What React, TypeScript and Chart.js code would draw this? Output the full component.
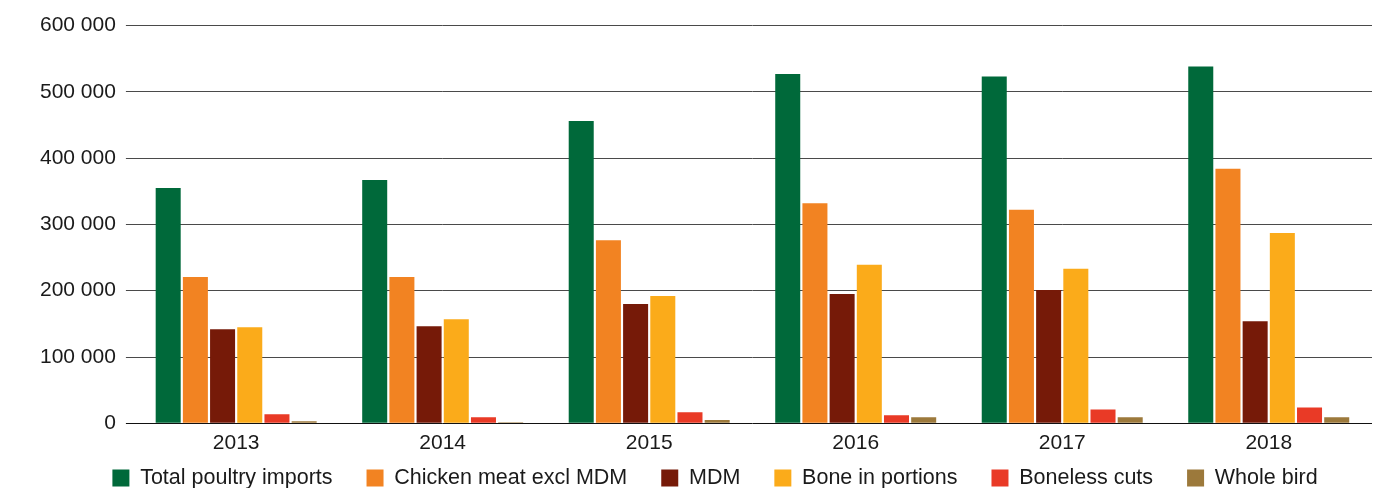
import React, { useEffect, useRef } from "react";
import { Chart, registerables } from "chart.js";

Chart.register(...registerables);

const categories = ["2013", "2014", "2015", "2016", "2017", "2018"];
const totalPoultryImports = [355000, 367000, 456000, 527000, 523000, 538000];
const chickenMeatExclMDM = [220500, 220500, 276000, 332000, 322000, 384000];
const mdm = [142000, 146500, 180000, 195000, 201000, 154000];
const boneInPortions = [145000, 157000, 192000, 239000, 233000, 287000];
const bonelessCuts = [13600, 9000, 16600, 12000, 21000, 24000];
const wholeBird = [3000, 1500, 5000, 9000, 9000, 9000];

const seriesNames = [
  "Total poultry imports",
  "Chicken meat excl MDM",
  "MDM",
  "Bone in portions",
  "Boneless cuts",
  "Whole bird",
];
const seriesColors = ["#00693a", "#f28322", "#761a08", "#fbab1a", "#e93a26", "#9c793b"];
const yTicks = [0, 100000, 200000, 300000, 400000, 500000, 600000];

const FONT = "'Liberation Sans', Arial, Helvetica, sans-serif";
const TEXT = "#1a1a1a";
const LEGEND_FIT_CUT = 24.5;
const LEGEND_RAISE = 23;
const LEGEND_SHIFT_X = 14;

const legendTweak = {
  id: "legendTweak",
  beforeLayout(chart: any) {
    const lg = chart.legend;
    if (lg && !lg.__wrapped) {
      const orig = lg.fit;
      lg.fit = function (this: any) {
        orig.call(this);
        this.height -= LEGEND_FIT_CUT;
      };
      lg.__wrapped = true;
    }
  },
  afterLayout(chart: any) {
    const lg = chart.legend;
    if (lg) {
      lg.top -= LEGEND_RAISE;
      lg.height += LEGEND_RAISE + 20;
      lg.bottom = lg.top + lg.height;
      lg.left += LEGEND_SHIFT_X;
      lg.right += LEGEND_SHIFT_X;
    }
  },
};

export default function App() {
  const ref = useRef<HTMLCanvasElement | null>(null);

  useEffect(() => {
    document.body.style.margin = "0";
    const values = [totalPoultryImports, chickenMeatExclMDM, mdm, boneInPortions, bonelessCuts, wholeBird];
    const chart = new Chart(ref.current as HTMLCanvasElement, {
      type: "bar",
      data: {
        labels: categories,
        datasets: seriesNames.map((name, i) => ({
          label: name,
          data: values[i],
          backgroundColor: seriesColors[i],
          borderWidth: 0,
          barPercentage: 0.92,
          categoryPercentage: 0.79,
        })),
      },
      plugins: [legendTweak],
      options: {
        animation: false,
        responsive: false,
        maintainAspectRatio: false,
        layout: { padding: { top: 25.5, right: 16, left: 30, bottom: -9.3 } },
        plugins: {
          tooltip: { enabled: false },
          legend: {
            position: "bottom",
            labels: {
              boxWidth: 17,
              boxHeight: 17,
              padding: 34,
              color: TEXT,
              font: { family: FONT, size: 21.5 },
            },
          },
        },
        scales: {
          x: {
            grid: { display: false, drawTicks: false },
            border: { display: false },
            ticks: { color: TEXT, font: { family: FONT, size: 21 }, padding: 7 },
            afterFit: (scale: any) => {
              scale.height = 33;
            },
          },
          y: {
            min: 0,
            max: 600000,
            afterBuildTicks: (axis: any) => {
              axis.ticks = yTicks.map((v) => ({ value: v }));
            },
            border: { display: false },
            grid: {
              drawTicks: true,
              tickLength: 7,
              color: (ctx: any) => (ctx.tick && ctx.tick.value === 0 ? "#111" : "#4a4a4a"),
              lineWidth: 1,
            },
            ticks: {
              padding: 10,
              color: TEXT,
              font: { family: FONT, size: 21 },
              callback: (v: any) => String(v).replace(/\B(?=(\d{3})+(?!\d))/g, " "),
            },
          },
        },
      },
    });
    return () => chart.destroy();
  }, []);

  return (
    <div style={{ position: "absolute", left: 0, top: 0, width: 1388, height: 488 }}>
      <canvas ref={ref} width={1388} height={488} style={{ width: 1388, height: 488 }} />
    </div>
  );
}
